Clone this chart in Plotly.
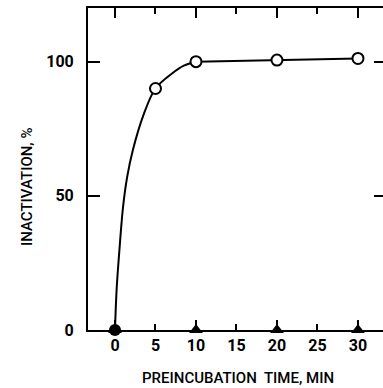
import plotly.graph_objects as go

# Data
time_open = [5, 10, 20, 30]
inact_open = [90, 100, 100.6, 101.2]

time_tri = [0, 10, 20, 30]
inact_tri = [0, 0, 0, 0]

time_dot = [0]
inact_dot = [0]

# fitted curve drawn through the early points
curve_t = [0, 0.2, 0.5, 1.0, 1.5, 2.2, 3.5, 5, 7, 8.5, 10]
curve_v = [0, 15, 28, 46, 57, 67, 80, 90, 95.5, 98.5, 100]

x_ticks = [0, 5, 10, 15, 20, 25, 30]
x_major = [0, 10, 20, 30]
y_ticks = [0, 50, 100]

FONT = "Roboto, Liberation Sans, sans-serif"
XR = [-3.333, 33.09]
YR = [0, 120]

fig = go.Figure()
fig.add_trace(go.Scatter(x=curve_t, y=curve_v, mode="lines",
                         line=dict(color="black", width=2, shape="spline", smoothing=1.0),
                         hoverinfo="skip", showlegend=False))
fig.add_trace(go.Scatter(x=time_open[1:], y=inact_open[1:], mode="lines",
                         line=dict(color="black", width=2), showlegend=False))
fig.add_trace(go.Scatter(x=time_open, y=inact_open, mode="markers",
                         marker=dict(symbol="circle", size=11, color="white",
                                     line=dict(color="black", width=2)), showlegend=False))
fig.add_trace(go.Scatter(x=time_tri, y=inact_tri, mode="markers",
                         marker=dict(symbol="triangle-up", size=12, color="black"),
                         cliponaxis=False, showlegend=False))
fig.add_trace(go.Scatter(x=time_dot, y=inact_dot, mode="markers",
                         marker=dict(symbol="circle", size=12, color="black"),
                         cliponaxis=False, showlegend=False))
# helper trace to anchor secondary axes
fig.add_trace(go.Scatter(x=time_tri, y=inact_tri, mode="markers", xaxis="x2", yaxis="y2",
                         marker=dict(size=1, opacity=0), hoverinfo="skip", showlegend=False))

tf = dict(family=FONT, size=16, color="black", weight="bold")

fig.update_layout(
    width=383, height=388,
    margin=dict(l=88, r=0, t=8, b=58),
    paper_bgcolor="white", plot_bgcolor="white",
    font=dict(family=FONT, size=16, color="black"),
    xaxis=dict(range=XR, tickvals=x_ticks, ticks="inside", ticklen=6, tickwidth=2,
               tickcolor="black", showline=True, linewidth=2, linecolor="black",
               mirror="ticks", showgrid=False, zeroline=False, tickfont=tf),
    xaxis2=dict(range=XR, overlaying="x", matches="x", tickvals=x_major, ticks="inside",
                ticklen=10, tickwidth=2, tickcolor="black", showline=False,
                mirror="ticks", showticklabels=False, showgrid=False, zeroline=False),
    yaxis=dict(range=YR, tickvals=y_ticks, ticks="inside", ticklen=12, tickwidth=2,
               tickcolor="black", showline=True, linewidth=2, linecolor="black",
               showgrid=False, zeroline=False, ticklabelstandoff=9, tickfont=tf),
    yaxis2=dict(range=YR, overlaying="y", side="right", tickvals=[50, 100], ticks="inside",
                ticklen=9, tickwidth=2, tickcolor="black", showline=False,
                showticklabels=False, showgrid=False, zeroline=False),
)
pw = 383 - 88
ph = 388 - 8 - 58
fig.layout.annotations = [
    dict(text="PREINCUBATION  TIME, MIN", x=(238 - 88) / pw, y=(330 - 378) / ph,
         xref="paper", yref="paper", xanchor="center", yanchor="middle",
         showarrow=False, font=dict(family=FONT, size=15, color="black", weight=500)),
    dict(text="INACTIVATION, %", x=(27 - 88) / pw, y=(330 - 187) / ph,
         xref="paper", yref="paper", xanchor="center", yanchor="middle", textangle=-90,
         showarrow=False, font=dict(family=FONT, size=15, color="black", weight=500)),
]

fig.write_html("out.html", config={"displayModeBar": False},
               post_script="document.body.style.margin='0px';")
